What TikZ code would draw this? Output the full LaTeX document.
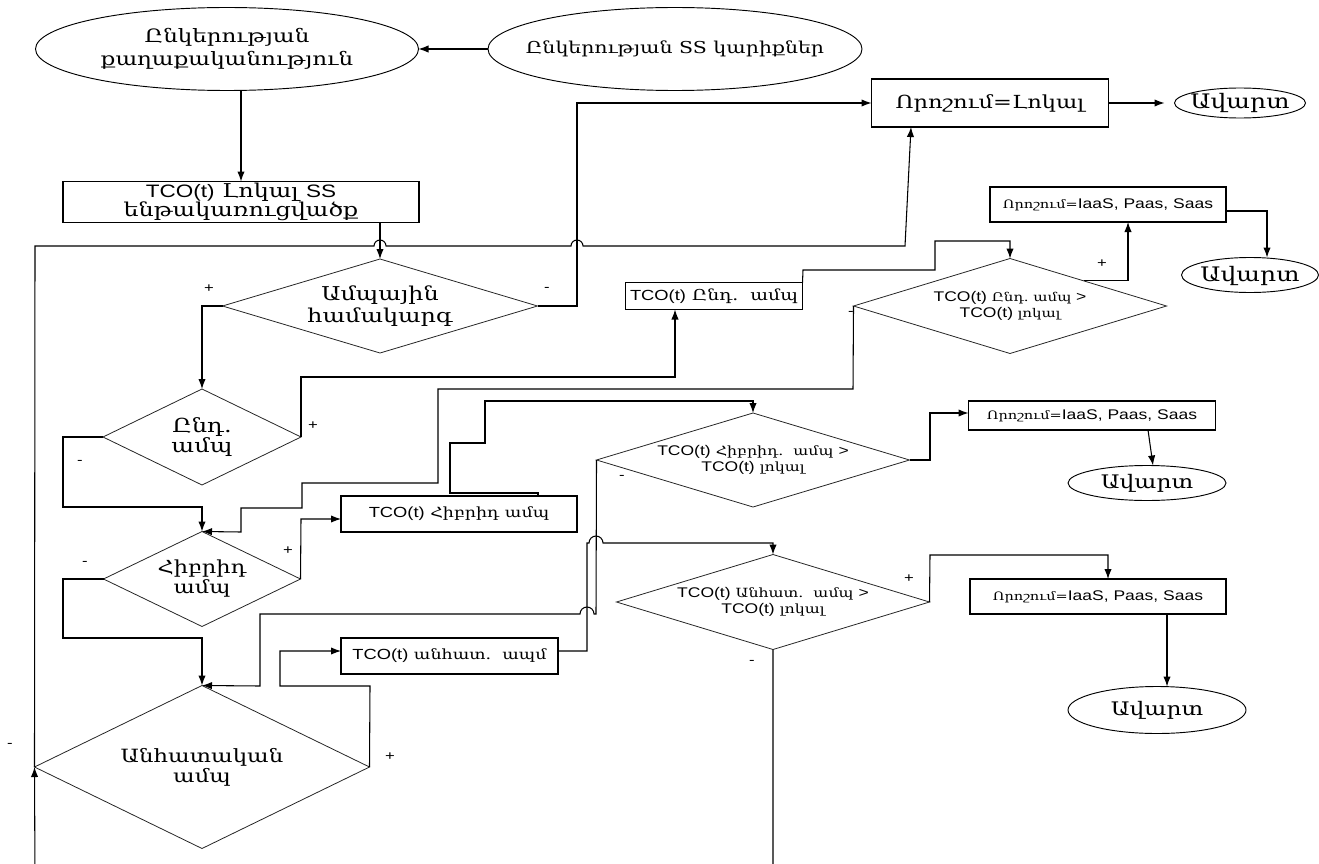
\documentclass[tikz,border=0pt]{standalone}
\usepackage{fontspec}
\setmainfont{DejaVu Serif}[FakeStretch=1.25]
\newfontfamily\latfam{Liberation Sans}[FakeStretch=1.25]
\usetikzlibrary{shapes.geometric,arrows.meta,calc}
\newcommand\latsz{11}
\newcommand\La[1]{{\latfam\fontsize{\latsz}{\latsz}\selectfont #1}}
\newcommand\zw[1]{\makebox[0pt][c]{\raisebox{-0.3em}[0pt][0pt]{#1}}}
\begin{document}
\begin{tikzpicture}[x=0.75pt,y=-0.75pt,
  every node/.style={inner sep=0pt, outer sep=0pt, align=center},
  sz/.style 2 args={minimum width=#1*0.75pt, minimum height=#2*0.75pt},
  box/.style={draw, line width=0.95pt, rectangle},
  oval/.style={draw, line width=0.7pt, ellipse},
  dec/.style={draw, line width=0.6pt, diamond, draw=black!85},
  con/.style={line width=0.8pt, -{Latex[length=7.5pt,width=5.5pt]}},
  lbl/.style={font=\latfam\fontsize{10}{10}\selectfont},
  fs/.style 2 args={font=\fontsize{#1}{#2}\selectfont},
  tco/.style={font=\fontsize{9}{11.5}\selectfont\def\latsz{10.5}},
  res/.style={font=\fontsize{8.7}{10}\selectfont\def\latsz{10.5}},
  mbox/.style={font=\fontsize{10.5}{12}\selectfont\def\latsz{11}}]
\path[use as bounding box] (0,0) rectangle (1319,863);
\clip (0,0) rectangle (1319,863);

% nodes
\node[oval, sz={383}{83}, fs={13.8}{17.5}] (E1) at (227,49) {Ընկերության\\քաղաքականություն};
\node[oval, sz={374}{83}, fs={12.3}{14}] (E2) at (675,49) {\zw{Ընկերության SS կարիքներ}};
\node[box, sz={356}{41}, font=\fontsize{14.3}{14.5}\selectfont\def\latsz{13.5}] (B1) at (241,202) {\La{TCO(t)} Լոկալ \La{SS}\\ենթակառուցվածք};
\node[box, sz={237}{48}, fs={13.5}{16}] (B2) at (990,103) {Որոշում=Լոկալ};
\node[oval, sz={131}{30}, fs={15}{16}] (A1) at (1240,103) {\zw{Ավարտ}};
\node[dec, sz={315}{94}, aspect=3.35, fs={14.3}{16}] (D1) at (380,306) {Ամպային\\համակարգ};
\node[dec, sz={198}{96}, aspect=2.06, fs={14.5}{14}] (D2) at (202,437) {Ընդ.\\ամպ};
\node[box, sz={177}{27}, font=\fontsize{11.3}{12}\selectfont\def\latsz{11}] (B3) at (714,296) {\La{TCO(t)} Ընդ.\ \ ամպ};
\node[dec, sz={313}{95}, aspect=3.3, tco] (D3) at (1010,306) {\La{TCO(t)} Ընդ.\ ամպ \La{>}\\\La{TCO(t)} լոկալ};
\node[box, sz={236}{35}, res] (B4) at (1108,204.5) {Որոշում=\La{IaaS, Paas, Saas}};
\node[oval, sz={137}{35}, fs={15}{16}] (A2) at (1250,275) {\zw{Ավարտ}};
\node[dec, sz={197}{95}, aspect=2.07, fs={13.5}{15}] (D5) at (202,579) {Հիբրիդ\\ամպ};
\node[box, sz={236}{36}, mbox] (B5) at (459,514) {\La{TCO(t)} Հիբրիդ ամպ};
\node[dec, sz={313}{94}, aspect=3.33, font=\fontsize{9.5}{11.5}\selectfont\def\latsz{10.5}] (D7) at (753,460) {\La{TCO(t)} Հիբրիդ.\ \ ամպ \La{>}\\\La{TCO(t)} լոկալ};
\node[box, sz={247}{29}, res] (B6) at (1092,415.5) {Որոշում=\La{IaaS, Paas, Saas}};
\node[oval, sz={158}{35}, fs={14}{16}] (A3) at (1147,483) {\zw{Ավարտ}};
\node[dec, sz={335}{163}, aspect=2.06, fs={13.7}{15}] (D4) at (202,767) {Անհատական\\ամպ};
\node[box, sz={217}{36}, mbox] (B7) at (449.5,656) {\La{TCO(t)} անհատ.\ \ ապմ};
\node[dec, sz={313}{95}, aspect=3.3, font=\fontsize{9.5}{11.5}\selectfont\def\latsz{10.5}] (D8) at (773,602) {\La{TCO(t)} Անհատ.\ \ ամպ \La{>}\\\La{TCO(t)} լոկալ};
\node[box, sz={256}{35}, res] (B8) at (1098,596.5) {Որոշում=\La{IaaS, Paas, Saas}};
\node[oval, sz={178}{47}, fs={14}{16}] (A4) at (1157,710) {\zw{Ավարտ}};

% labels
\node[lbl] (l1) at (209,289) {+};
\node[lbl] (l2) at (547,289) {-};
\node[lbl] (l3) at (313,426) {+};
\node[lbl] (l4) at (80,462) {-};
\node[lbl] (l5) at (288,551) {+};
\node[lbl] (l6) at (85,563) {-};
\node[lbl] (l7) at (390,757) {+};
\node[lbl] (l8) at (10,745) {-};
\node[lbl] (l9) at (1102,264) {+};
\node[lbl] (l10) at (851,313) {-};
\node[lbl] (l11) at (622,477) {-};
\node[lbl] (l12) at (909,579) {+};
\node[lbl] (l13) at (752,662) {-};

% connectors
\draw[con] (E2.west) -- (E1.east);
\draw[con] (E1.south -| B1.north) -- (B1.north);
\draw[con] (B1.south -| D1.north) -- (D1.north);
\draw[con] (D1.east) -- (577,306) -- (577,103) -- (B2.west);
\draw[con, shorten >=7.5pt] (B2.east) -- (A1.west);
\draw[con] (D1.west) -- (202,306) -- (D2.north);
\draw[con] (D2.east) -- (301,377) -- (675,377) -- (B3.south -| 675,0);
\draw[con] (B3.north east) -- (803,270) -- (935,270) -- (935,241) -- (1010,241) -- (D3.north);
\coordinate (d3p) at ($(D3.north)!0.47!(D3.east)$);
\draw[con] (d3p) -- (d3p -| 1128,0) -- (B4.south -| 1128,0);
\draw[con] (B4.east |- 0,211) -- (1267,211) -- (A2.north -| 1267,0);
\draw[con] (D3.west) -- (853,389) -- (438,389) -- (438,483) -- (302,483) -- (302,508) -- (241,508) -- (241,532) -- (D5.north);
\draw[con] (D2.west) -- (63,437) -- (63,507) -- (202,507) -- (D5.north);
\draw[con] (D5.east) -- (301,519) -- (B5.west |- 0,519);
\draw[con] (B5.north -| 538,0) -- (538,493) -- (450,493) -- (450,443) -- (485,443) -- (485,401) -- (753,401) -- (D7.north);
\draw[con] (D7.east) -- (930,460) -- (930,413) -- (B6.west |- 0,413);
\draw[con] (B6.south -| 1148,0) -- (A3.north -| 1153,0);
\draw[con] (D5.west) -- (63,579) -- (63,638) -- (202,638) -- (D4.north);
\draw[con] (D7.west) -- (596,614) -- (594,614) arc[start angle=0,end angle=180,radius=5.25pt] -- (260,614) -- (260,686) -- (D4.north);
\draw[con] (D4.east) -- (370,686) -- (280,686) -- (280,651) -- (B7.west |- 0,651);
\draw[con] (B7.east |- 0,651) -- (587,651) -- (587,543) -- (589,543) arc[start angle=180,end angle=0,radius=5.25pt] -- (773,543) -- (D8.north);
\draw[con] (D8.east) -- (930,555) -- (1108,555) -- (B8.north -| 1108,0);
\draw[con] (B8.south -| 1167,0) -- (A4.north -| 1167,0);
\draw[con] (D4.west) -- (35,246) -- (374,246) arc[start angle=180,end angle=0,radius=4.5pt] -- (571,246) arc[start angle=180,end angle=0,radius=4.5pt] -- (905,246) -- (B2.south -| 911,0);
\draw[con] (D8.south) -- (773,880) -- (35,880) -- (D4.west);
\end{tikzpicture}
\end{document}
